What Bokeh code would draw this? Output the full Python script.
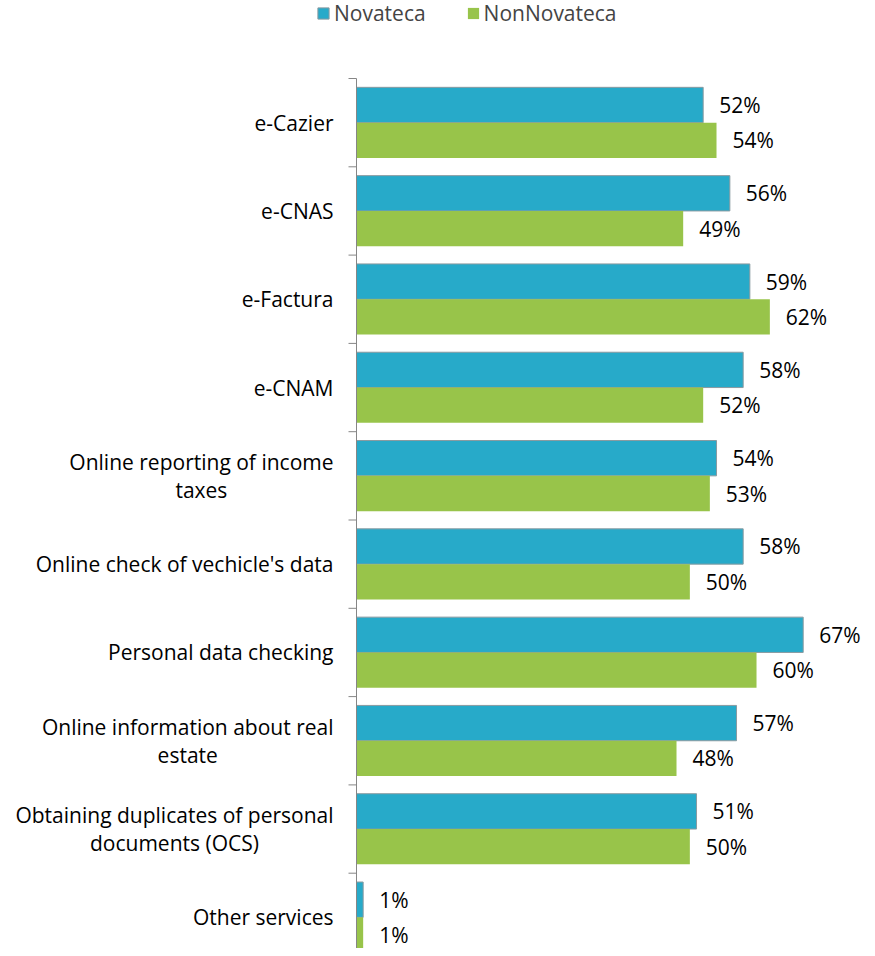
from bokeh.plotting import figure
from bokeh.models import (ColumnDataSource, Range1d, Legend, LegendItem, LabelSet)
from bokeh.core.properties import value
from bokeh.embed import file_html
from bokeh.resources import INLINE

categories = ["e-Cazier", "e-CNAS", "e-Factura", "e-CNAM",
              "Online reporting of income\ntaxes",
              "Online check of vechicle's data",
              "Personal data checking",
              "Online information about real\nestate",
              "Obtaining duplicates of personal\ndocuments (OCS)",
              "Other services"]
novateca = [52, 56, 59, 58, 54, 58, 67, 57, 51, 1]
non_novateca = [54, 49, 62, 52, 53, 50, 60, 48, 50, 1]
series_names = ["Novateca", "NonNovateca"]

BLUE = "#27AAC9"
GREEN = "#98C44A"
AXIS = "#868686"
FONT = "Open Sans"
FS = "21px"

W, H = 867, 948
PX_PER_UNIT_X = 6.667      # pixels per percentage point
PX_PER_CAT = 88.3          # pixels per category band
LEFT_PX, TOP_PX = 356, 78  # where the value axis / first band start

n = len(categories)
centers = [i + 0.5 for i in range(n)]
y_blue = [c - 0.2 for c in centers]
y_green = [c + 0.2 for c in centers]

src_b = ColumnDataSource(dict(y=y_blue, v=novateca, lab=[f"{v}%" for v in novateca]))
src_g = ColumnDataSource(dict(y=y_green, v=non_novateca, lab=[f"{v}%" for v in non_novateca]))
src_c = ColumnDataSource(dict(y=centers, x=[0] * n, lab=categories))

x_range = Range1d(-LEFT_PX / PX_PER_UNIT_X, (W - LEFT_PX) / PX_PER_UNIT_X)
y_range = Range1d(start=(H - TOP_PX) / PX_PER_CAT, end=-TOP_PX / PX_PER_CAT)

p = figure(width=W, height=H, output_backend="svg", toolbar_location=None,
           x_range=x_range, y_range=y_range,
           min_border_left=0, min_border_right=0, min_border_top=0, min_border_bottom=0)
p.outline_line_color = None
p.xgrid.visible = False
p.ygrid.visible = False
p.xaxis.visible = False
p.yaxis.visible = False

rb = p.hbar(y="y", right="v", left=0, height=0.4, source=src_b,
            fill_color=BLUE, line_color="#8a9aa0", line_width=1)
rg = p.hbar(y="y", right="v", left=0, height=0.4, source=src_g,
            fill_color=GREEN, line_color=None)

# category axis: line at value 0, ticks at band boundaries
tick_len = 8 / PX_PER_UNIT_X
bounds = list(range(0, n + 1))
p.segment(x0=[0], y0=[0], x1=[0], y1=[n], line_color=AXIS, line_width=1)
p.segment(x0=[-tick_len] * len(bounds), y0=bounds, x1=[0] * len(bounds), y1=bounds,
          line_color=AXIS, line_width=1)

# category labels: block anchored right of the axis, lines centred within the block
p.text(x="x", y="y", text="lab", source=src_c, x_offset=-23,
       anchor="center_right", text_align="center", text_baseline="middle",
       text_font=value(FONT), text_font_size=value(FS), text_color="#000000",
       text_line_height=1.0)

for s in (src_b, src_g):
    p.add_layout(LabelSet(x="v", y="y", text="lab", source=s, x_offset=16,
                          text_baseline="middle", text_font=value(FONT),
                          text_font_size=FS, text_color="#000000"))

legend = Legend(items=[LegendItem(label=series_names[0], renderers=[rb]),
                       LegendItem(label=series_names[1], renderers=[rg])],
                orientation="horizontal", location=(316, 921),
                label_text_font=FONT, label_text_font_size=FS,
                label_standoff=4, glyph_width=14, glyph_height=14, spacing=40,
                border_line_color=None, background_fill_alpha=0, padding=2, margin=0)
p.add_layout(legend, "center")

open("out.html", "w").write(file_html(p, INLINE))
